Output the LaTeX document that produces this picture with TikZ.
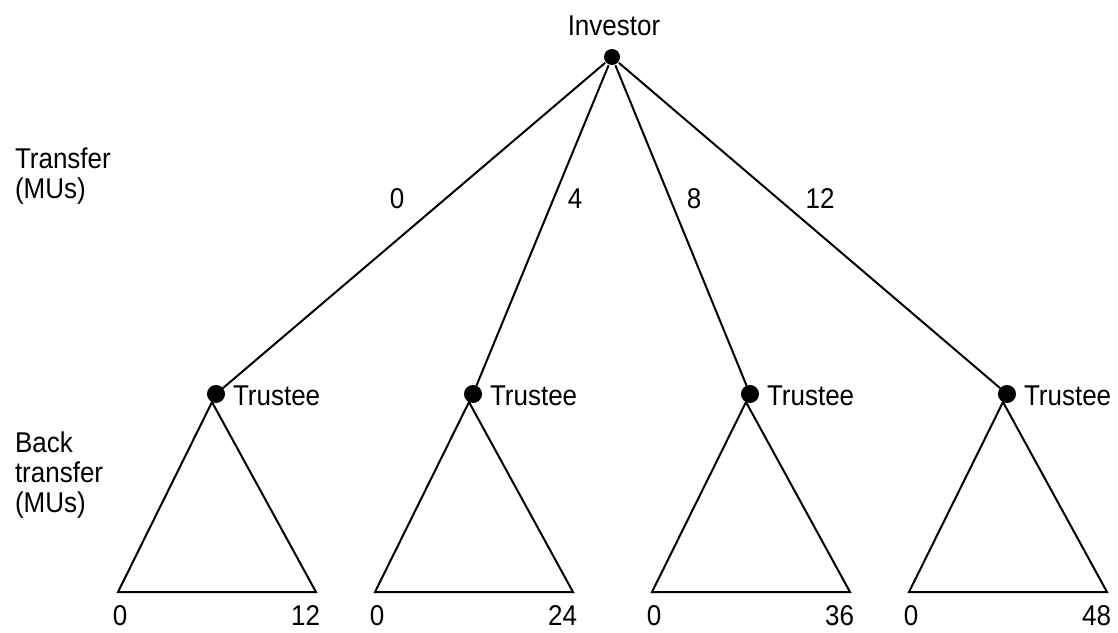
\documentclass[tikz,border=0pt]{standalone}
\usepackage{graphicx}
\usepackage{fontspec}
\setmainfont{Liberation Sans}
% lettering is a little taller than plain Arial
\newcommand{\tall}[1]{\scalebox{1}[1.1]{#1}}
\begin{document}
\begin{tikzpicture}[x=1pt,y=-1pt,line width=2pt,
  every node/.style={font=\fontsize{26}{27.3}\selectfont,inner sep=0pt},
  dot/.style={circle,fill=black,minimum size=16pt,inner sep=0pt},
  lbl/.style={anchor=base}]
\useasboundingbox (0,0) rectangle (1118,632);

% decision nodes
\node[dot] (inv) at (612,57) {};
\node[lbl] (invtxt) at (614,35) {\tall{Investor}};

\foreach \i/\x in {1/216,2/473,3/750,4/1007}{
  \node[dot] (t\i) at (\x,394) {};
  \node[anchor=base west] (tt\i) at (\x+16,405) {\tall{Trustee}};
  \coordinate (l\i) at (\x-98,592);
  \coordinate (r\i) at (\x+100,592);
}

% first-stage transfers
\draw (inv) -- (t1);
\draw (inv) -- (t2);
\draw (inv) -- (t3);
\draw (inv) -- (t4);

\node[lbl] (e1) at (397,208) {\tall{0}};
\node[lbl] (e2) at (575,208) {\tall{4}};
\node[lbl] (e3) at (694,208) {\tall{8}};
\node[lbl] (e4) at (820,208) {\tall{12}};

% back-transfer ranges
\foreach \i in {1,...,4}{
  \draw (t\i) -- (l\i) -- (r\i) -- cycle;
}
\draw[fill=black] (t1) circle (8pt) (t2) circle (8pt) (t3) circle (8pt) (t4) circle (8pt);

\foreach \i/\v in {1/12,2/24,3/36,4/48}{
  \node[lbl] (lo\i) at ([xshift=2pt]l\i) [yshift=-33pt] {\tall{0}};
  \node[anchor=base east] (hi\i) at ([xshift=5pt]r\i) [yshift=-33pt] {\tall{\v}};
}

% row captions
\node[anchor=base west] (cap1) at (14,168)
  {\tall{\begin{tabular}[t]{@{}l@{}}Transfer\\(MUs)\end{tabular}}};
\node[anchor=base west] (cap2) at (14,452)
  {\tall{\begin{tabular}[t]{@{}l@{}}Back\\transfer\\(MUs)\end{tabular}}};
\end{tikzpicture}
\end{document}
